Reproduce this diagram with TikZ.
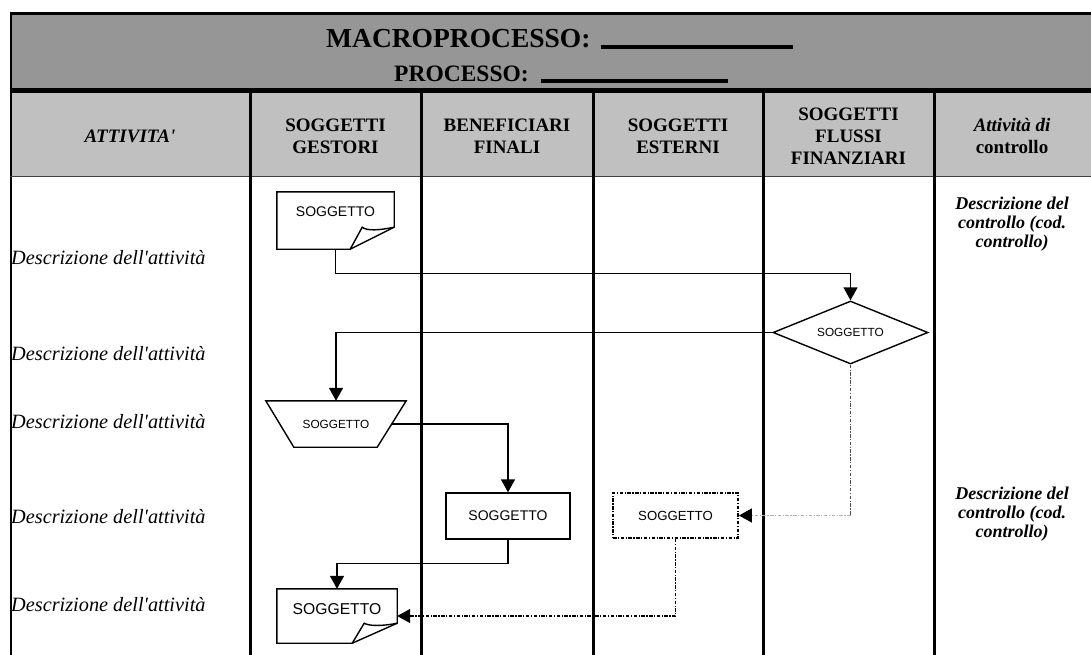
\documentclass[tikz,border=0pt]{standalone}
\usepackage{fontspec}
\setmainfont{Liberation Serif}[Ligatures=TeXOff]
\setsansfont{Liberation Sans}
\usetikzlibrary{shapes.geometric,arrows.meta,calc}

\definecolor{band}{HTML}{969696}
\definecolor{headfill}{HTML}{C0C0C0}

\begin{document}
\begin{tikzpicture}[x=1pt,y=-1pt,
  grid/.style={line width=3pt},
  outline/.style={draw, line width=1.4pt, fill=white},
  frame/.style={draw=none, inner sep=0pt},
  lbl/.style={font={\sffamily\fontsize{#1pt}{#1pt}\selectfont}, inner sep=0pt},
  flow/.style={line width=1.4pt, -{Triangle[length=13pt,width=14pt]}},
  dd/.style={dash pattern=on 3.5pt off 1.5pt on 1.2pt off 1.5pt},
  headtxt/.style={align=center, inner sep=0pt,
    font={\fontsize{19pt}{22pt}\selectfont\bfseries}},
  rowtxt/.style={anchor=west, inner sep=0pt,
    font={\fontsize{20.3pt}{24pt}\selectfont\itshape}},
  ctrltxt/.style={align=center, inner sep=0pt,
    font={\fontsize{18pt}{19pt}\selectfont\bfseries\itshape}}]

\useasboundingbox (0,0) rectangle (1091,654);

% table background and rules
\fill[band] (10,12) rectangle (1100,90);
\fill[headfill] (10,90) rectangle (1100,176);
\draw[line width=3pt] (10,13.5) -- (1100,13.5);
\draw[line width=2.2pt] (11,12) -- (11,660);
\draw[line width=5pt] (10,90) -- (1100,90);
\draw[line width=1.5pt, black!75] (10,176.5) -- (1100,176.5);
\foreach \x in {250,421,593,763,934} \draw[grid] (\x,90) -- (\x,660);

% title band
\node[anchor=base west, inner sep=0pt, font={\fontsize{27.5pt}{30pt}\selectfont\bfseries}]
  (title) at (326,47) {MACROPROCESSO:\hspace{10pt}\rule[-2pt]{192pt}{4.5pt}};
\node[anchor=base west, inner sep=0pt, font={\fontsize{23.5pt}{26pt}\selectfont\bfseries}]
  (subtitle) at (394,81.5) {PROCESSO:\hspace{12pt}\rule[-1.5pt]{187pt}{4pt}};

% column headings
\node[headtxt] (hA) at (130,136) {\itshape ATTIVITA'};
\node[headtxt] (hB) at (335.5,136) {SOGGETTI\\GESTORI};
\node[headtxt] (hC) at (507,136) {BENEFICIARI\\FINALI};
\node[headtxt] (hD) at (678,136) {SOGGETTI\\ESTERNI};
\node[headtxt] (hE) at (848.5,136) {SOGGETTI\\FLUSSI\\FINANZIARI};
\node[headtxt] (hF) at (1012,136) {\itshape Attività di\\controllo};

% activity descriptions
\foreach \y/\n in {258/1,354/2,422/3,517/4,605/5}
  \node[rowtxt] (r\n) at (11,\y) {Descrizione dell'attività};

% control descriptions
\node[ctrltxt] (k1) at (1012,224) {Descrizione del\\controllo (cod.\\controllo)};
\node[ctrltxt] (k2) at (1012,514) {Descrizione del\\controllo (cod.\\controllo)};

% flow shapes
\node[frame, minimum width=117pt, minimum height=57pt] (d1) at (335.5,220.5) {};
\node[frame, minimum width=140pt, minimum height=46pt] (trap) at (336,424) {};
\node[frame, minimum width=120pt, minimum height=54pt] (d2) at (337,616) {};
\node[outline, diamond, aspect=2.46, inner sep=0pt, minimum width=155pt,
  minimum height=63pt, lbl=11.8] (dia) at (850.5,332.5) {SOGGETTO};
\node[outline, minimum width=124pt, minimum height=46pt, lbl=14] (box) at (508,516) {SOGGETTO};
\node[outline, dd, line width=1.8pt, minimum width=125pt, minimum height=45pt, lbl=13.2]
  (ext) at (675.5,515.5) {SOGGETTO};

\coordinate (trapR) at ($(trap.east)+(-14.5,0)$);
\coordinate (turn) at (dia.south |- ext.east);

% connectors
\draw[flow] (d1.south) -- ++(0,24) -| (dia.north);
\draw[flow] (dia.west) -| (trap.north);
\draw[flow] (trapR) -| (box.north);
\draw[flow] (box.south) -- ++(0,24) -| (d2.north);
\draw[dd, line width=1.2pt, black!70] (dia.south) -- (turn);
\draw[dd, line width=1.1pt, black!30, -{Triangle[length=13pt,width=14pt,color=black]}] (turn) -- (ext.east);
\draw[dd, line width=1.4pt, -{Triangle[length=13pt,width=14pt]}] (ext.south) |- (d2.east);

% document with folded corner
\filldraw[outline] (d1.north west) -- (d1.north east) -- ($(d1.south east)+(0,-22)$)
  -- ($(d1.south east)+(-44,0)$) -- (d1.south west) -- cycle;
\draw[line width=1.4pt] ($(d1.south east)+(-44,0)$) -- ($(d1.south east)+(-32,-22)$)
  .. controls ($(d1.south east)+(-27,-18)$) and ($(d1.south east)+(-15,-19)$) .. ($(d1.south east)+(0,-22)$);
\node[lbl=14] (d1t) at ($(d1.center)+(0,-8.5)$) {SOGGETTO};

% manual input shape
\filldraw[outline] (trap.north west) -- (trap.north east) -- ($(trap.south east)+(-29,0)$)
  -- ($(trap.south west)+(28,0)$) -- cycle;
\node[lbl=11.8] (trapt) at (trap.center) {SOGGETTO};

% second document
\filldraw[outline] (d2.north west) -- (d2.north east) -- ($(d2.south east)+(0,-20)$)
  -- ($(d2.south east)+(-45,0)$) -- (d2.south west) -- cycle;
\draw[line width=1.4pt] ($(d2.south east)+(-45,0)$) -- ($(d2.south east)+(-33,-20)$)
  .. controls ($(d2.south east)+(-28,-17)$) and ($(d2.south east)+(-15,-17)$) .. ($(d2.south east)+(0,-20)$);
\node[lbl=15.7] (d2t) at ($(d2.center)+(0,-7)$) {SOGGETTO};

\end{tikzpicture}
\end{document}
